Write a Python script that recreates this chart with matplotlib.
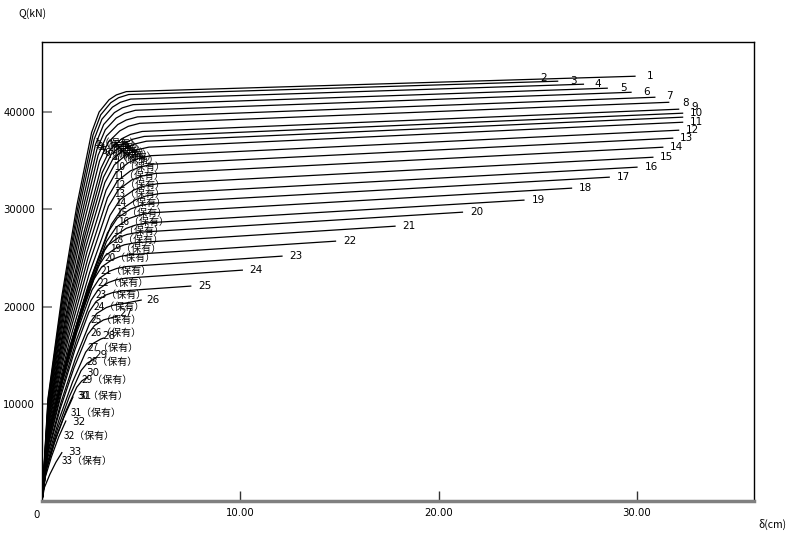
import matplotlib
matplotlib.use('Agg')
import matplotlib.pyplot as plt
import numpy as np

stories = list(range(1, 34))

# story displacement (cm) along each Q-delta curve, origin excluded
disp = [
    [0.30, 1.00, 1.75, 2.50, 2.88, 3.38, 3.75, 4.25, 29.9],
    [0.31, 1.03, 1.80, 2.57, 2.96, 3.47, 3.86, 4.37, 26.0],
    [0.32, 1.05, 1.84, 2.63, 3.02, 3.55, 3.95, 4.47, 27.3],
    [0.32, 1.08, 1.89, 2.70, 3.11, 3.65, 4.05, 4.59, 28.5],
    [0.33, 1.11, 1.94, 2.77, 3.19, 3.74, 4.16, 4.71, 29.7],
    [0.34, 1.13, 1.98, 2.83, 3.25, 3.82, 4.25, 4.81, 30.9],
    [0.35, 1.16, 2.03, 2.90, 3.34, 3.92, 4.35, 4.93, 31.6],
    [0.36, 1.19, 2.08, 2.97, 3.42, 4.01, 4.46, 5.05, 32.1],
    [0.36, 1.21, 2.12, 3.03, 3.48, 4.09, 4.55, 5.15, 32.3],
    [0.37, 1.24, 2.17, 3.10, 3.57, 4.19, 4.65, 5.27, 32.3],
    [0.38, 1.27, 2.22, 3.17, 3.65, 4.28, 4.76, 5.39, 32.3],
    [0.39, 1.29, 2.26, 3.23, 3.71, 4.36, 4.85, 5.49, 32.1],
    [0.40, 1.32, 2.31, 3.30, 3.80, 4.46, 4.95, 5.61, 31.8],
    [0.40, 1.34, 2.35, 3.35, 3.85, 4.52, 5.03, 5.70, 31.3],
    [0.41, 1.37, 2.40, 3.43, 3.94, 4.63, 5.15, 5.83, 30.8],
    [0.42, 1.40, 2.45, 3.50, 4.03, 4.73, 5.25, 5.95, 30.0],
    [0.40, 1.32, 2.31, 3.30, 3.80, 4.46, 4.95, 5.61, 28.6],
    [0.39, 1.30, 2.28, 3.25, 3.74, 4.39, 4.88, 5.53, 26.7],
    [0.38, 1.26, 2.21, 3.15, 3.62, 4.25, 4.73, 5.36, 24.3],
    [0.34, 1.14, 2.00, 2.85, 3.28, 3.85, 4.28, 4.85, 21.2],
    [0.33, 1.11, 1.94, 2.77, 3.19, 3.74, 4.16, 4.71, 17.8],
    [0.31, 1.05, 1.83, 2.62, 3.01, 3.54, 3.93, 4.45, 14.8],
    [0.30, 1.01, 1.76, 2.52, 2.90, 3.40, 3.78, 4.28, 12.1],
    [0.30, 0.99, 1.73, 2.47, 2.84, 3.33, 3.71, 4.20, 10.1],
    [0.28, 0.95, 1.66, 2.37, 2.73, 3.20, 3.56, 4.03, 7.5],
    [0.29, 0.96, 1.68, 2.40, 2.76, 3.24, 3.60, 4.08, 5.0],
    [0.28, 0.92, 1.61, 2.30, 2.65, 3.10, 3.8],
    [0.26, 0.88, 1.54, 2.20, 2.53, 2.97, 3.1],
    [0.24, 0.79, 1.38, 1.97, 2.27, 2.7],
    [0.21, 0.70, 1.23, 1.75, 2.01, 2.3],
    [0.19, 0.62, 1.09, 1.56],
    [0.14, 0.48, 0.84, 1.2],
    [0.12, 0.40, 0.70, 1.0],
]

# story shear (kN) at the same points
shear = [
    [10530, 21050, 30310, 37890, 40000, 41260, 41760, 42100, 43680],
    [10450, 20900, 30100, 37620, 39710, 40960, 41470, 41800, 43170],
    [10330, 20670, 29760, 37200, 39260, 40500, 41000, 41330, 42860],
    [10190, 20380, 29350, 36680, 38720, 39940, 40430, 40760, 42450],
    [10050, 20090, 28930, 36160, 38170, 39380, 39860, 40180, 42030],
    [9880, 19750, 28440, 35550, 37530, 38710, 39180, 39500, 41520],
    [9710, 19420, 27960, 34960, 36900, 38060, 38530, 38840, 41000],
    [9500, 19000, 27360, 34200, 36100, 37240, 37700, 38000, 40290],
    [9370, 18750, 26990, 33740, 35620, 36740, 37190, 37490, 39880],
    [9250, 18500, 26640, 33300, 35150, 36260, 36700, 37000, 39470],
    [9100, 18200, 26200, 32750, 34570, 35660, 36100, 36390, 38950],
    [8880, 17760, 25570, 31960, 33730, 34800, 35230, 35510, 38130],
    [8660, 17320, 24940, 31180, 32910, 33950, 34360, 34640, 37310],
    [8420, 16840, 24250, 30310, 32000, 33010, 33410, 33680, 36380],
    [8160, 16320, 23490, 29370, 31000, 31980, 32370, 32630, 35350],
    [7910, 15810, 22770, 28460, 30040, 30990, 31370, 31620, 34330],
    [7660, 15320, 22050, 27570, 29100, 30020, 30380, 30630, 33300],
    [7410, 14820, 21340, 26680, 28160, 29050, 29400, 29640, 32170],
    [7150, 14310, 20600, 25750, 27180, 28040, 28380, 28610, 30940],
    [6910, 13820, 19890, 24870, 26250, 27080, 27410, 27630, 29700],
    [6640, 13280, 19120, 23900, 25230, 26030, 26350, 26560, 28260],
    [6340, 12670, 18240, 22810, 24070, 24830, 25140, 25340, 26720],
    [6030, 12060, 17360, 21700, 22900, 23630, 23920, 24110, 25180],
    [5730, 11460, 16500, 20620, 21760, 22450, 22730, 22910, 23740],
    [5400, 10800, 15550, 19440, 20520, 21170, 21430, 21600, 22100],
    [5075, 10150, 14620, 18270, 19285, 19890, 20140, 20300, 20660],
    [4750, 9500, 13680, 17100, 18050, 18620, 19010],
    [4250, 8500, 12240, 15300, 16150, 16660, 16750],
    [3725, 7450, 10730, 13410, 14155, 14700],
    [3250, 6500, 9360, 11700, 12350, 12740],
    [2970, 5940, 8550, 10690],
    [2280, 4570, 6580, 8220],
    [1380, 2760, 3980, 4970],
]

# shear at the "保有" point of each story
hoyu_q = [36790, 36590, 36380, 36180, 35970, 35770, 35560, 35350, 35050, 34330,
          33400, 32480, 31550, 30630, 29600, 28670, 27750, 26820, 25900, 24970,
          23640, 22400, 21170, 19940, 18600, 17270, 15720, 14290, 12440, 10790,
          9040, 6680, 4110]

# pixel offsets of the end-of-curve numbers
end_dx = [15, -14, -10, -9, -8, -8, 1, 7, 12, 14, 14] + [14] * 14 + [12, 9, 5, 5, 5, 12, 13, 13]
end_dy = [0, 3, 3, 4, 4, 5, 6, 6, 6, 4, 0] + [0] * 14 + [0, 3, 2, 3, 4, 1, -1, 1]

num_font = ['Liberation Sans Narrow', 'DejaVu Sans']
jp_font = ['Liberation Sans Narrow', 'Noto Sans CJK JP', 'DejaVu Sans']

fig = plt.figure(figsize=(7.92, 5.39), dpi=100)
ax = fig.add_axes([42 / 792, 1 - 501 / 539, (754 - 42) / 792, (501 - 42.3) / 539])

for i, st in enumerate(stories):
    d = [0.0] + disp[i]
    q = [0.0] + shear[i]
    ax.plot(d, q, color='black', lw=0.9, solid_joinstyle='round')
    ax.annotate(str(st), (d[-1], q[-1]), xytext=(end_dx[i], end_dy[i]),
                textcoords='offset pixels', ha='center', va='center',
                fontsize=7.5, family=num_font)
    hx = np.interp(hoyu_q[i], q, d)
    ax.annotate(str(st) + '（保有）', (hx, hoyu_q[i]), xytext=(5, 0),
                textcoords='offset pixels', ha='left', va='center',
                fontsize=7.2, family=jp_font)

ax.set_xlim(0, 35.9)
ax.set_ylim(0, 47170)
ax.set_xticks([10, 20, 30])
ax.set_xticklabels(['10.00', '20.00', '30.00'], family=num_font, fontsize=7.3)
ax.set_yticks([10000, 20000, 30000, 40000])
ax.set_yticklabels(['10000', '20000', '30000', '40000'], family=num_font, fontsize=7.3)
ax.tick_params(axis='x', direction='in', length=7, width=1, color='#333333', pad=5)
ax.tick_params(axis='y', direction='in', length=7, width=1.2, color='#777777', pad=5)

for side in ['top', 'right', 'left']:
    ax.spines[side].set_color('black')
    ax.spines[side].set_linewidth(1.0)
ax.spines['bottom'].set_color('#808080')
ax.spines['bottom'].set_linewidth(2.5)

ax.annotate('0', (0, 0), xytext=(-5, -14), textcoords='offset pixels',
            ha='center', va='center', fontsize=7.3, family=num_font)
fig.text(32 / 792, 1 - 14 / 539, 'Q(kN)', ha='center', va='center',
         fontsize=7.5, family=jp_font)
fig.text(772 / 792, 1 - 524 / 539, 'δ(cm)', ha='center', va='center',
         fontsize=7.5, family=jp_font)

fig.savefig('out.png', dpi=100)
